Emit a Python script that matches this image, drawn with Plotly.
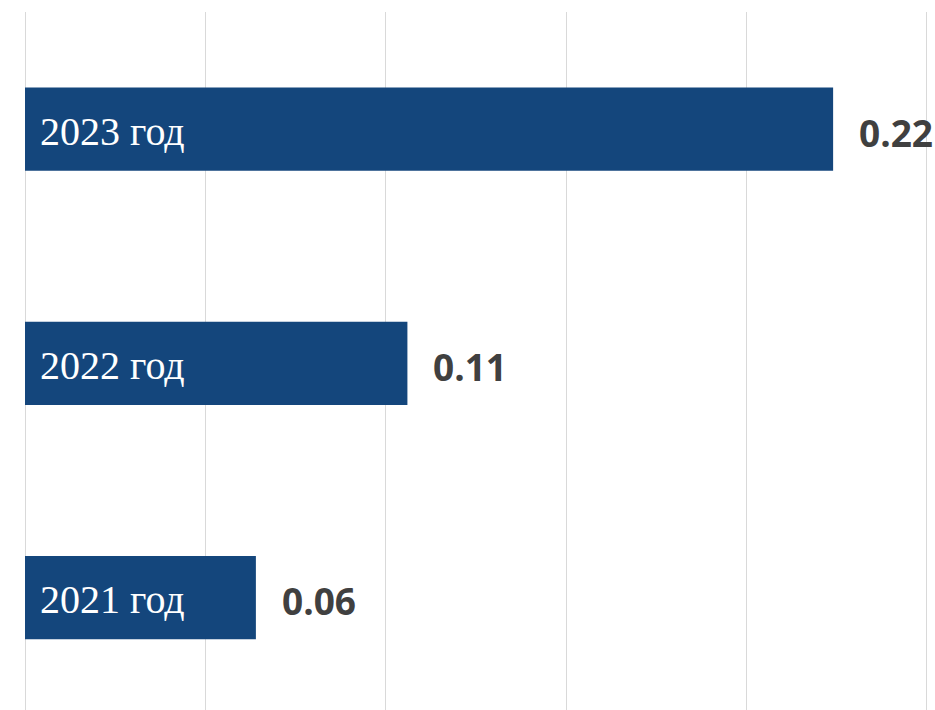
import plotly.graph_objects as go

categories = ["2021 год", "2022 год", "2023 год"]
values = [0.064, 0.106, 0.224]
value_labels = ["0.06", "0.11", "0.22"]

bar_color = "#14467C"

fig = go.Figure()
fig.add_trace(go.Bar(
    y=categories,
    x=values,
    orientation="h",
    marker=dict(color=bar_color, line=dict(width=0)),
    width=0.355,
    hoverinfo="skip",
))

annotations = []
for cat, val, lab in zip(categories, values, value_labels):
    annotations.append(dict(
        x=0, y=cat, xref="x", yref="y", text=cat, showarrow=False,
        xanchor="left", yanchor="middle", xshift=13, yshift=-2,
        font=dict(family="Liberation Serif", size=40, color="white"),
    ))
    annotations.append(dict(
        x=val, y=cat, xref="x", yref="y", text="<b>" + lab + "</b>", showarrow=False,
        xanchor="left", yanchor="middle", xshift=24, yshift=-3,
        font=dict(family="Open Sans", size=37, color="#404040"),
    ))

fig.update_layout(
    width=935, height=710,
    margin=dict(l=25, r=7, t=12, b=0),
    paper_bgcolor="white", plot_bgcolor="white",
    showlegend=False,
    annotations=annotations,
    xaxis=dict(
        range=[0, 0.2503], dtick=0.05, tick0=0,
        showgrid=True, gridcolor="#D9D9D9", gridwidth=1.3,
        showticklabels=False, zeroline=True, zerolinecolor="#D9D9D9", zerolinewidth=1.3,
        showline=False, ticks="",
    ),
    yaxis=dict(
        range=[-0.48, 2.5], showticklabels=False, showgrid=False,
        zeroline=False, showline=False, ticks="",
    ),
)

fig.write_html(
    "out.html",
    config={"displayModeBar": False},
    post_script="document.body.style.margin='0';document.body.style.overflow='hidden';",
)
